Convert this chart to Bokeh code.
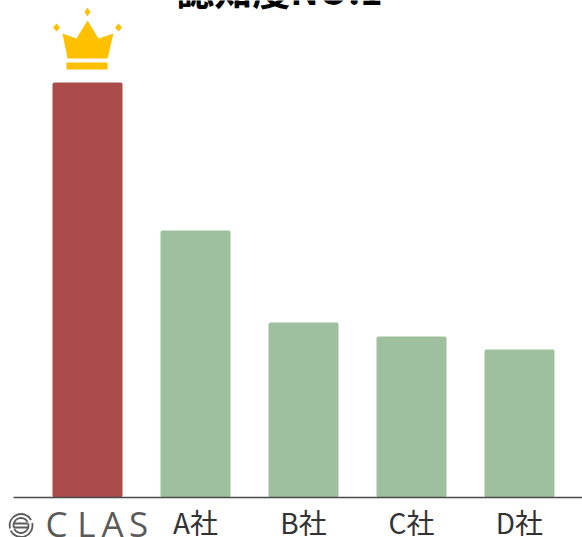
from bokeh.plotting import figure
from bokeh.models import Range1d, FixedTicker
from bokeh.core.properties import value
from bokeh.embed import file_html
from bokeh.resources import INLINE

categories = ["自社", "A社", "B社", "C社", "D社"]
tick_labels = ["", "A社", "B社", "C社", "D社"]
values = [41.5, 26.7, 17.5, 16.1, 14.8]
bar_colors = ["#AB4C4B", "#9FC09E", "#9FC09E", "#9FC09E", "#9FC09E"]
title_text = "認知度NO.1"
logo_letters = ["C", "L", "A", "S"]

W, H = 582, 537
BASE = 497
LEFT = 13
STEP = 108.0
C0 = 87.0
FONT = "Noto Sans CJK JP"
LOGO = "#5A5A5A"

def xd(pxl):
    return (pxl - C0) / STEP

def yd(pxl):
    return (BASE - pxl) / 10.0

p = figure(width=W, height=H, output_backend="svg", toolbar_location=None,
           x_range=Range1d(xd(0), xd(W)), y_range=Range1d(yd(H), yd(0)),
           frame_width=W, frame_height=H,
           min_border_left=0, min_border_right=0, min_border_top=0, min_border_bottom=0,
           outline_line_color=None, background_fill_color="white", border_fill_color="white")
p.grid.visible = False
p.yaxis.visible = False

xs = list(range(len(categories)))
p.vbar(x=xs, top=values, bottom=0, width=70 / STEP, fill_color=bar_colors,
       line_color=None, border_radius=2)

ax = p.xaxis[0]
ax.fixed_location = 0
ax.bounds = (xd(LEFT), xd(W))
ax.ticker = FixedTicker(ticks=xs)
ax.major_label_overrides = {i: t for i, t in enumerate(tick_labels)}
ax.major_tick_line_color = None
ax.minor_tick_line_color = None
ax.axis_line_color = "#4A4A4A"
ax.axis_line_width = 1.5
ax.major_label_text_font = FONT
ax.major_label_text_font_size = "28px"
ax.major_label_text_color = "#333333"
ax.major_label_standoff = -2

top = values[0]
def cx(dx):
    return xd(C0 + dx)
def cy(dy):
    return top + dy / 10.0
gold = "#FFC000"
p.patch([cx(d) for d in (-25, -11, 0, 11, 26, 20, -20)],
        [cy(d) for d in (49, 44, 62, 44, 49, 24, 24)], fill_color=gold, line_color=None)
p.patch([cx(d) for d in (-21, 20, 20, -21)], [cy(d) for d in (20, 20, 13, 13)],
        fill_color=gold, line_color=None)
for dx0, dy0, rx, ry in ((0, 70.5, 3, 4.5), (-31, 55, 3.5, 4), (31, 55, 3.5, 4)):
    p.patch([cx(dx0 - rx), cx(dx0), cx(dx0 + rx), cx(dx0)],
            [cy(dy0), cy(dy0 + ry), cy(dy0), cy(dy0 - ry)], fill_color=gold, line_color=None)

p.text(x=[xd(279)], y=[yd(-12)], text=[title_text], text_font=value(FONT), text_font_size="38px",
       text_font_style="bold", text_color="black", text_align="center", text_baseline="middle")

p.text(x=[xd(v) for v in (56, 86, 112, 138)], y=[yd(523)] * 4, text=logo_letters,
       text_font=value("Open Sans"), text_font_size="35px",
       text_color=LOGO, text_align="center", text_baseline="middle")

# logo mark
ic_x, ic_y = xd(20.5), yd(525)
for r in (11.5, 7.5):
    p.arc(x=[ic_x], y=[ic_y], radius=r, radius_units="screen", start_angle=0.5, end_angle=3.4,
          line_color=LOGO, line_width=1.8)
    p.arc(x=[ic_x], y=[ic_y], radius=r, radius_units="screen", start_angle=3.6, end_angle=6.5,
          line_color=LOGO, line_width=1.8)
p.segment(x0=[xd(13), xd(13)], y0=[yd(523), yd(527)], x1=[xd(28), xd(28)], y1=[yd(523), yd(527)],
          line_color=LOGO, line_width=1.8)

open("out.html", "w").write(file_html(p, INLINE))
